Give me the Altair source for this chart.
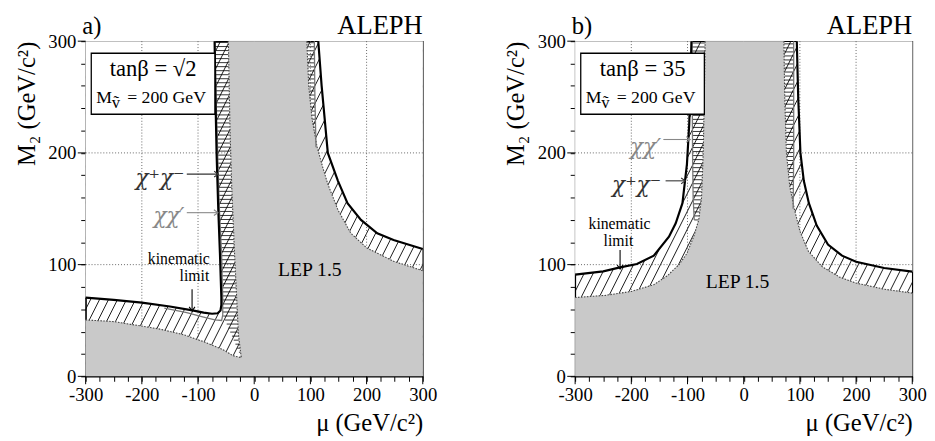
import altair as alt
import numpy as np
import pandas as pd

FONT = "Liberation Serif"
CHI_FONT = "DejaVu Serif"
GRAY_FILL = "#c9c9c9"

# ---------------- axis ticks / grid
x_ticks = list(range(-300, 301, 25))
y_ticks = list(range(0, 301, 20))
x_major = [-300, -200, -100, 0, 100, 200, 300]
y_major = [0, 100, 200, 300]
x_grid = [-200, -100, 0, 100, 200]
y_grid = [100, 200]

# ---------------- panel a  (tan beta = sqrt2)
a_kin_x = [-300, -250, -200, -150, -110, -90, -75, -65, -60, -58.5]          # kinematic limit
a_kin_y = [70.5, 68.5, 66, 62.5, 59, 57, 56, 56.5, 59, 64]
a_cc_x = [-58.5, -61, -64, -67, -69, -70.5]                                  # chi+chi- (left)
a_cc_y = [70.5, 110, 150, 200, 250, 300]
a_ccr_x = [114, 120, 131, 149, 166, 190, 219, 248, 300]                      # chi+chi- (right)
a_ccr_y = [300, 260, 200, 175, 155, 140, 128, 122, 114]
a_nn_x = [-160, -120, -90, -70, -58, -56, -56, -58, -62, -65, -68, -70]       # chi chi' (left)
a_nn_y = [61, 57, 53, 50.5, 50, 55, 70, 110, 150, 200, 250, 300]
a_nnr_x = [110, 108, 107]                                                    # chi chi' (right)
a_nnr_y = [205, 250, 300]
a_lep_x = [-300, -250, -213, -170, -126, -90, -56, -38, -23, -28, -35, -40, -43, -46]   # LEP1.5 left
a_lep_y = [50.5, 49, 46, 42.5, 37.3, 31, 24, 18.5, 16.7, 37, 110, 170, 220, 300]
a_lepr_x = [93.6, 97, 103, 112, 122, 131, 149, 172, 200, 248, 300]          # LEP1.5 right
a_lepr_y = [300, 260, 230, 205, 187, 172, 149, 128, 115, 103, 94.5]

# ---------------- panel b  (tan beta = 35)
b_ccl_x = [-300, -250, -220, -190, -160, -133, -121, -109, -101, -97, -95, -93]
b_ccl_y = [91, 94, 97.5, 100.5, 108, 125, 137, 155, 190, 225, 260, 300]
b_ccr_x = [94.5, 97, 101, 107, 116, 130, 150, 175, 200, 250, 300]
b_ccr_y = [300, 250, 200, 175, 155, 135, 118, 108, 102.5, 97, 93.7]
b_nnl_x = [-88, -90, -91, -91.5, -92]
b_nnl_y = [140, 160, 200, 250, 300]
b_nnr_x = [88, 89, 89, 89]
b_nnr_y = [150, 200, 250, 300]
b_lepl_x = [-300, -246, -200, -160, -136, -115, -101, -89, -80, -75, -72, -70, -68.6]
b_lepl_y = [70.5, 72.5, 76, 82, 90, 100, 110, 125, 140, 160, 200, 250, 300]
b_lepr_x = [71.5, 73, 76, 82, 90, 100, 115, 140, 170, 200, 250, 300]
b_lepr_y = [300, 250, 200, 170, 150, 130, 112, 98, 89, 83.5, 78, 74.5]

W, H = 343, 341
XSC = alt.Scale(domain=[-300, 300], nice=False, zero=False)
YSC = alt.Scale(domain=[0, 300], nice=False, zero=False)
MAJOR = "datum.value % 100 === 0"

X_AXIS = alt.Axis(
    values=x_ticks, labelExpr=f"{MAJOR} ? '' + datum.value : ''", grid=False,
    tickSize=5, tickWidth=1,
    tickColor="black", domainColor="black", labelColor="black", titleColor="black",
    labelFont=FONT, labelFontSize=19, labelPadding=5, labelOverlap=False, labelFlush=False,
    title="μ (GeV/c²)", titleFont=FONT, titleFontSize=25, titleFontWeight="normal",
    titleAnchor="end", titlePadding=6)
Y_AXIS = alt.Axis(
    values=y_ticks, labelExpr=f"{MAJOR} ? '' + datum.value : ''", grid=False,
    tickSize=5, tickWidth=1,
    tickColor="black", domainColor="black", labelColor="black", titleColor="black",
    labelFont=FONT, labelFontSize=19, labelPadding=5, labelOverlap=False, labelFlush=False,
    title="M₂ (GeV/c²)", titleFont=FONT, titleFontSize=25, titleFontWeight="normal",
    titleAnchor="end", titlePadding=9)


def ex(f):
    return alt.X(f, type="quantitative", scale=XSC, axis=X_AXIS)


def ey(f):
    return alt.Y(f, type="quantitative", scale=YSC, axis=Y_AXIS)


def polys(*lists):
    rows = []
    for g, (xs, ys) in enumerate(lists):
        for i, (x, y) in enumerate(zip(xs, ys)):
            rows.append(dict(g=g, i=i, x=float(x), y=float(y)))
    return pd.DataFrame(rows)


def path_layer(df, **mark):
    return alt.Chart(df).mark_line(**mark).encode(
        x=ex("x"), y=ey("y"), detail="g:N", order="i:Q")


def text_layer(xs, ys, texts, font=FONT, **mark):
    df = pd.DataFrame({"x": xs, "y": ys, "t": texts})
    return alt.Chart(df).mark_text(font=font, **mark).encode(x=ex("x"), y=ey("y"), text="t:N")


def arrows(x0, x1, y0, y1, color, shape):
    df = pd.DataFrame({"x": x0, "x2": x1, "y": y0, "y2": y1})
    shaft = alt.Chart(df).mark_rule(color=color, strokeWidth=1.1).encode(
        x=ex("x"), x2="x2", y=ey("y"), y2="y2")
    head = alt.Chart(df).mark_point(shape=shape, filled=False, color=color, size=70,
                                    strokeWidth=1.1, opacity=1).encode(x=ex("x2"), y=ey("y2"))
    return [shaft, head]


RIGHT_HEAD = "M -1 -0.7 L 0 0 L -1 0.7"
DOWN_HEAD = "M -0.7 -1 L 0 0 L 0.7 -1"


def build_panel(P):
    layers = []
    # diagonal hatch over the whole frame (later covered by white / grey)
    c = np.arange(-600, 301, 16)
    hatch = pd.DataFrame({"x": c, "y": 0.0, "x2": c + 300, "y2": 300.0})
    layers.append(alt.Chart(hatch).mark_rule(clip=True, color="black", strokeWidth=0.9).encode(
        x=ex("x"), y=ey("y"), x2="x2", y2="y2"))
    # horizontal stripes in the chi chi' strips
    rows = []
    for (ly, lx, ylo, other, left_is_line) in P["stripes"]:
        for yy in np.arange(ylo, 300, 3.6):
            xl = float(np.interp(yy, ly, lx))
            if left_is_line:
                rows.append(dict(x=xl, x2=other, y=yy))
            else:
                rows.append(dict(x=other, x2=xl, y=yy))
    st = pd.DataFrame(rows)
    layers.append(alt.Chart(st).mark_rule(clip=True, color="black", strokeWidth=0.8).encode(
        x=ex("x"), x2="x2", y=ey("y")))
    # white allowed region
    layers.append(path_layer(polys(*P["white"]), fill="white", color="white", strokeWidth=0.5))
    # grid
    gx = pd.DataFrame({"v": x_grid})
    gy = pd.DataFrame({"v": y_grid})
    layers.append(alt.Chart(gx).mark_rule(color="#555", strokeDash=[1, 2], strokeWidth=0.9).encode(
        x=ex("v")))
    layers.append(alt.Chart(gy).mark_rule(color="#555", strokeDash=[1, 2], strokeWidth=0.9).encode(
        y=ey("v")))
    # LEP 1.5 excluded
    layers.append(path_layer(polys(P["grey"]), fill=GRAY_FILL, color=GRAY_FILL, strokeWidth=0.5))
    layers.append(path_layer(polys(*P["dotted"]), color="#444", strokeWidth=1.1, strokeDash=[1.5, 1.5]))
    # chi chi' lines (grey) and chi+chi- / kinematic (black)
    layers.append(path_layer(polys(*P["nn"]), color="#777", strokeWidth=1.3))
    layers.append(path_layer(polys(*P["cc"]), color="black", strokeWidth=2.2))
    # longer major ticks
    mx = pd.DataFrame({"v": x_major})
    my = pd.DataFrame({"v": y_major})
    layers.append(alt.Chart(mx).mark_rule(color="black", strokeWidth=1).encode(
        x=ex("v"), y=alt.value(H), y2=alt.value(H + 8)))
    layers.append(alt.Chart(my).mark_rule(color="black", strokeWidth=1).encode(
        y=ey("v"), x=alt.value(0), x2=alt.value(-8)))
    # legend box
    box = pd.DataFrame({"x": [-290], "x2": [-70], "y": [234.6], "y2": [289.2]})
    layers.append(alt.Chart(box).mark_rect(fill="white", stroke="black", strokeWidth=1.3).encode(
        x=ex("x"), x2="x2", y=ey("y"), y2="y2"))
    layers.append(text_layer([-180], [268.5], [P["tanb"]], fontSize=23, align="center",
                             baseline="alphabetic"))
    layers.append(text_layer([-281, -226], [244.3, 244.3], ["M", "= 200 GeV"], fontSize=18,
                             align="left", baseline="alphabetic"))
    layers.append(text_layer([-246], [240.5], ["ṽ"], fontSize=17, align="center", baseline="alphabetic"))
    # header
    layers.append(text_layer([-306], [306], [P["tag"]], fontSize=25, align="left", baseline="alphabetic"))
    layers.append(text_layer([300], [306], ["ALEPH"], fontSize=27, align="right", baseline="alphabetic"))
    # LEP 1.5 label
    layers.append(text_layer([P["lep"][0]], [P["lep"][1]], ["LEP 1.5"], fontSize=20, align="center",
                             baseline="alphabetic"))
    # kinematic limit label
    k = P["kin"]
    layers.append(text_layer([k["x"], k["x2"]], [k["y"], k["y2"]], ["kinematic", "limit"], fontSize=16,
                             align=k["align"], baseline="alphabetic"))
    layers += arrows([k["ax"]], [k["ax"]], [k["ay0"]], [k["ay1"]], "black", DOWN_HEAD)
    # chi labels
    for (lab, tx, ty, x0, x1, ay, col) in P["chi"]:
        layers.append(text_layer([tx], [ty], [lab], font=CHI_FONT, fontSize=22, align="right",
                                 baseline="alphabetic", color=col, fontStyle="italic"))
        layers += arrows([x0], [x1], [ay], [ay], col, RIGHT_HEAD)
    return alt.layer(*layers).properties(width=W, height=H)


PA = dict(
    stripes=[([16.7] + a_nn_y[5:], [-23] + a_nn_x[5:], 18, 0.0, True),
             (a_nnr_y, a_nnr_x, 205, 60.0, False)],
    white=[([-300] + a_kin_x + a_cc_x, [300] + a_kin_y + a_cc_y),
           (a_ccr_x + [300], a_ccr_y + [300])],
    grey=([-300] + a_lep_x + a_lepr_x + [300], [0] + a_lep_y + a_lepr_y + [0]),
    dotted=[(a_lep_x, a_lep_y), (a_lepr_x, a_lepr_y)],
    nn=[(a_nn_x, a_nn_y), (a_nnr_x, a_nnr_y)],
    cc=[(a_kin_x + a_cc_x, a_kin_y + a_cc_y), (a_ccr_x, a_ccr_y)],
    tanb="tanβ = √2", tag="a)", lep=(99, 90),
    kin=dict(x=-79, y=101, x2=-80, y2=85.5, align="right", ax=-110.6, ay0=78, ay1=58.5),
    chi=[("χ⁺χ⁻", -124, 171, -120, -64, 181, "#333"),
         ("χχ′", -124, 137, -120, -64.5, 146.5, "#888")],
)

PB = dict(
    stripes=[(b_nnl_y, b_nnl_x, 140, -30.0, True),
             (b_nnr_y, b_nnr_x, 150, 30.0, False)],
    white=[([-300] + b_ccl_x, [300] + b_ccl_y),
           (b_ccr_x + [300], b_ccr_y + [300])],
    grey=([-300] + b_lepl_x + b_lepr_x + [300], [0] + b_lepl_y + b_lepr_y + [0]),
    dotted=[(b_lepl_x, b_lepl_y), (b_lepr_x, b_lepr_y)],
    nn=[(b_nnl_x, b_nnl_y), (b_nnr_x, b_nnr_y)],
    cc=[(b_ccl_x, b_ccl_y), (b_ccr_x, b_ccr_y)],
    tanb="tanβ = 35", tag="b)", lep=(-11, 79),
    kin=dict(x=-221, y=132, x2=-223, y2=116.5, align="center", ax=-220, ay0=113, ay1=96),
    chi=[("χχ′", -147, 199, -143, -95, 212, "#888"),
         ("χ⁺χ⁻", -147, 165, -139, -104, 175, "#333")],
)

chart = alt.hconcat(build_panel(PA), build_panel(PB), spacing=155, bounds="flush").configure_view(
    stroke="black", strokeWidth=1.2).properties(padding={"left": 5, "top": 0, "right": 0, "bottom": 0})

chart.save("out.html", embed_options={"renderer": "svg", "actions": False})
